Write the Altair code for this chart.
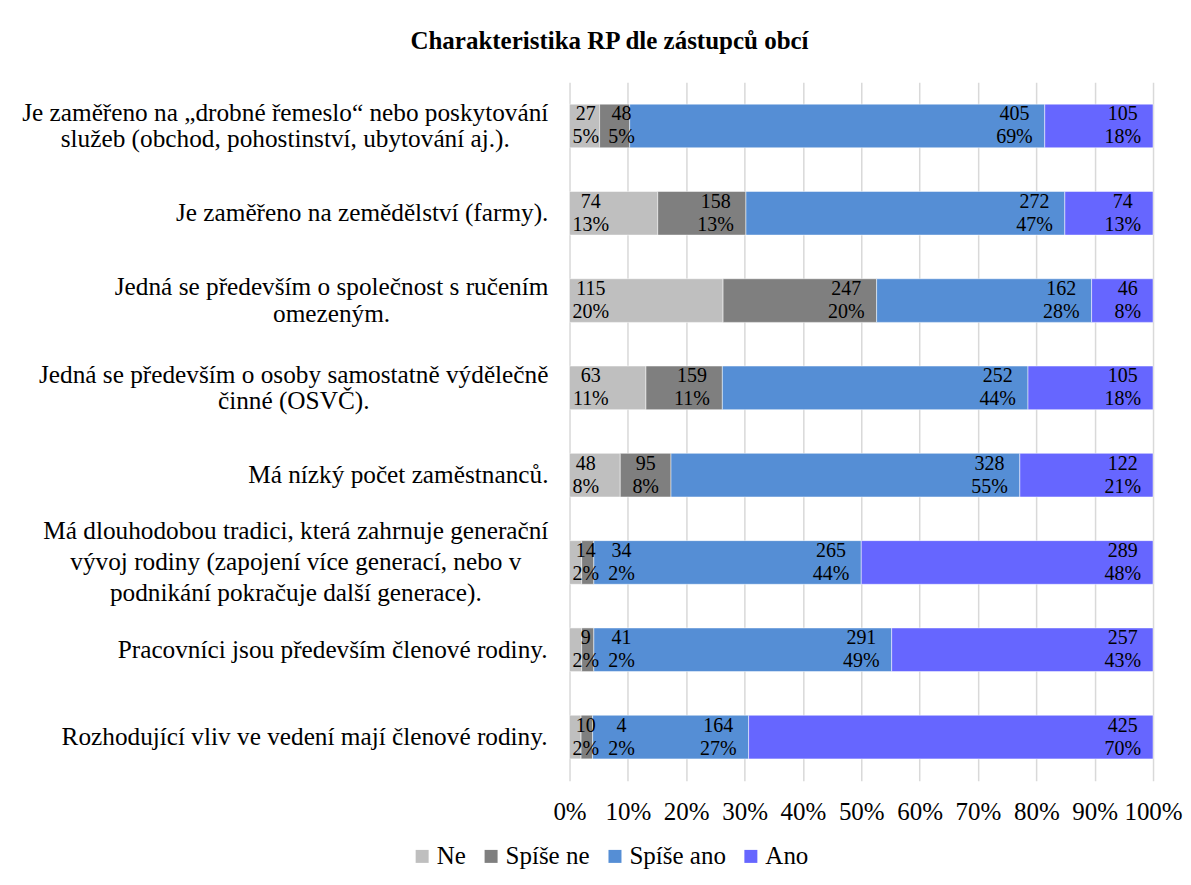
import unicodedata
import altair as alt
import pandas as pd

# ---------------- data ----------------
categories = [
    "Je zaměřeno na „drobné řemeslo“ nebo poskytování\nslužeb (obchod, pohostinství, ubytování aj.).",
    "Je zaměřeno na zemědělství (farmy).",
    "Jedná se především o společnost s ručením\nomezeným.",
    "Jedná se především o osoby samostatně výdělečně\nčinné (OSVČ).",
    "Má nízký počet zaměstnanců.",
    "Má dlouhodobou tradici, která zahrnuje generační\nvývoj rodiny (zapojení více generací, nebo v\npodnikání pokračuje další generace).",
    "Pracovníci jsou především členové rodiny.",
    "Rozhodující vliv ve vedení mají členové rodiny.",
]
series = ["Ne", "Spíše ne", "Spíše ano", "Ano"]
colors = ["#BFBFBF", "#7F7F7F", "#558ED5", "#6666FF"]

count_ne = [27, 74, 115, 63, 48, 14, 9, 10]
count_spise_ne = [48, 158, 247, 159, 95, 34, 41, 4]
count_spise_ano = [405, 272, 162, 252, 328, 265, 291, 164]
count_ano = [105, 74, 46, 105, 122, 289, 257, 425]

pct_ne = [5, 13, 20, 11, 8, 2, 2, 2]
pct_spise_ne = [5, 13, 20, 11, 8, 2, 2, 2]
pct_spise_ano = [69, 47, 28, 44, 55, 44, 49, 27]
pct_ano = [18, 13, 8, 18, 21, 48, 43, 70]

title_text = "Charakteristika RP dle zástupců obcí"

# ---------------- styling ----------------
FONT = "Times New Roman, Liberation Serif, Tinos, DejaVu Serif, serif"
PLOT_W = 584
PLOT_H = 699
LBL_SIZE = 20
LBL_LH = 23
Y_SIZE = 25.3
Y_LH = {1: 25, 2: 26.5, 3: 31}

# Times / Liberation Serif advance widths (1/1000 em)
TW = {" ": 250, "%": 833, "(": 333, ")": 333, ",": 250, ".": 250, "„": 444, "“": 444,
      "A": 722, "C": 667, "J": 389, "M": 889, "O": 722, "P": 556, "R": 667, "S": 556, "V": 722,
      "a": 444, "b": 500, "c": 444, "d": 500, "e": 444, "f": 333, "g": 500, "h": 500, "i": 278,
      "j": 278, "k": 500, "l": 278, "m": 778, "n": 500, "o": 500, "p": 500, "q": 500, "r": 333,
      "s": 389, "t": 278, "u": 500, "v": 500, "w": 722, "x": 500, "y": 500, "z": 444}


def text_width(s, size):
    total = 0
    for ch in s:
        base = unicodedata.normalize("NFD", ch)[0]
        total += TW.get(ch, TW.get(base, 500))
    return total * size / 1000.0


counts = [count_ne, count_spise_ne, count_spise_ano, count_ano]
pcts = [pct_ne, pct_spise_ne, pct_spise_ano, pct_ano]

rows = []
for i, cat in enumerate(categories):
    total = sum(p[i] for p in pcts)
    cum = 0.0
    prev_right = -1e9
    for k, s in enumerate(series):
        c = counts[k][i]
        p = pcts[k][i]
        cum += p
        end_px = cum / total * PLOT_W
        lines = [str(c), f"{p}%"]
        bw = max(text_width(t, LBL_SIZE) for t in lines)
        if k == 0:
            left = 3
        else:
            left = end_px - 12 - bw
            if left < prev_right + 9:
                left = prev_right + 9
        center = left + bw / 2
        prev_right = left + bw
        rows.append({"cat": cat, "series": s, "ord": k, "pct": p,
                     "label": "\n".join(lines), "lx": center / PLOT_W})
df = pd.DataFrame(rows)

ylab = []
for cat in categories:
    parts = cat.split("\n")
    bw = max(text_width(t, Y_SIZE) for t in parts)
    ylab.append({"cat": cat, "n": len(parts), "lx": -(21 + bw / 2) / PLOT_W})
df_y = pd.DataFrame(ylab)

xscale = alt.Scale(domain=[0, 1], nice=False, zero=False)
yenc = alt.Y("cat:N", sort=categories, axis=None,
             scale=alt.Scale(paddingInner=0.5, paddingOuter=0.25))

bars = alt.Chart(df).mark_bar(stroke="white", strokeWidth=1, strokeOpacity=0.5).encode(
    x=alt.X("pct:Q", stack="normalize", scale=xscale, title=None,
            axis=alt.Axis(format=".0%", values=[i / 10 for i in range(11)], grid=True,
                          gridColor="#D9D9D9", gridWidth=1.5, domain=False, ticks=False,
                          labelFont=FONT, labelFontSize=25, labelColor="#000000",
                          labelPadding=19, labelFlush=False, labelOverlap=False)),
    y=yenc,
    color=alt.Color("series:N", scale=alt.Scale(domain=series, range=colors),
                    legend=alt.Legend(orient="none", legendX=-160, legendY=762,
                                      direction="horizontal", title=None,
                                      symbolType="square", symbolSize=169,
                                      symbolStrokeWidth=0, labelFont=FONT,
                                      labelFontSize=25, labelColor="#000000",
                                      columnPadding=12, labelOffset=2)),
    order=alt.Order("ord:Q"),
)

labels = alt.Chart(df).mark_text(font=FONT, fontSize=LBL_SIZE, lineHeight=LBL_LH,
                                 lineBreak="\n", align="center", baseline="middle",
                                 dy=-LBL_LH / 2, color="#000000").encode(
    x=alt.X("lx:Q", scale=xscale),
    y=yenc,
    text="label:N",
)

ylayers = []
for n in sorted(df_y["n"].unique()):
    n = int(n)
    ylayers.append(
        alt.Chart(df_y[df_y["n"] == n]).mark_text(
            font=FONT, fontSize=Y_SIZE, lineHeight=Y_LH[n], lineBreak="\n",
            align="center", baseline="middle", dy=-(n - 1) * Y_LH[n] / 2,
            color="#000000").encode(
            x=alt.X("lx:Q", scale=xscale),
            y=yenc,
            text="cat:N",
        )
    )

chart = alt.layer(bars, labels, *ylayers).properties(
    width=PLOT_W,
    height=PLOT_H,
    title=alt.Title(title_text, font=FONT, fontSize=25, fontWeight="bold",
                    color="#000000", anchor="middle", offset=28, dx=-252),
    autosize=alt.AutoSizeParams(type="none"),
    padding={"left": 562, "top": 74, "right": 30, "bottom": 100},
).configure_view(stroke=None)

chart.save("out.html", embed_options={"renderer": "svg", "actions": False})
